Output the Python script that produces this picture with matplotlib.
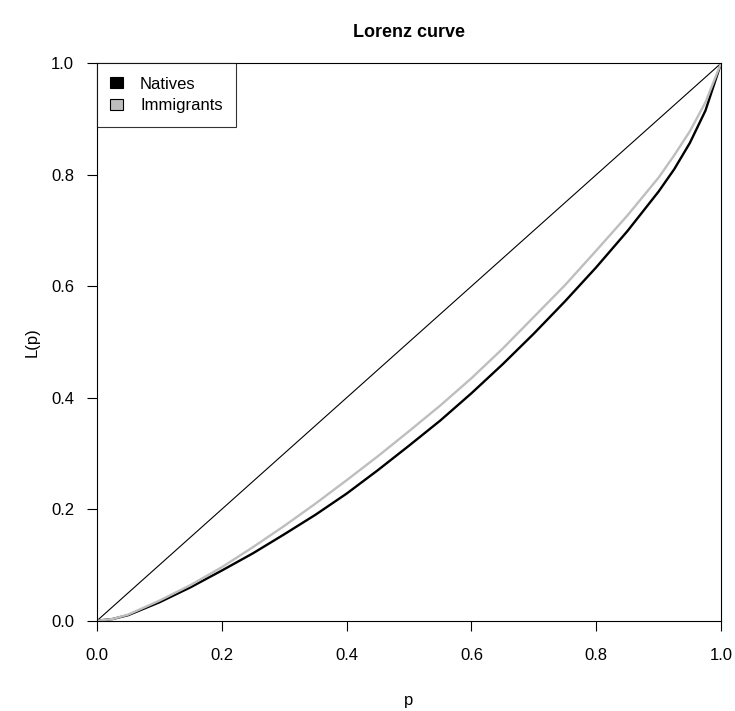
import matplotlib.pyplot as plt
from matplotlib.patches import Patch

plt.rcParams['font.family'] = ['Liberation Sans', 'DejaVu Sans']

# cumulative population share and income share
p = [0, 0.025, 0.05, 0.1, 0.15, 0.2, 0.25, 0.3, 0.35, 0.4, 0.45, 0.5, 0.55, 0.6,
     0.65, 0.7, 0.75, 0.8, 0.85, 0.9, 0.925, 0.95, 0.975, 1.0]
natives = [0, 0.003, 0.010, 0.033, 0.060, 0.090, 0.121, 0.155, 0.190, 0.228, 0.270,
           0.314, 0.359, 0.408, 0.460, 0.515, 0.573, 0.634, 0.699, 0.770, 0.810,
           0.857, 0.915, 1.0]
immigrants = [0, 0.003, 0.011, 0.036, 0.064, 0.096, 0.132, 0.170, 0.210, 0.252, 0.295,
              0.340, 0.386, 0.435, 0.488, 0.545, 0.602, 0.664, 0.727, 0.795, 0.835,
              0.878, 0.930, 1.0]

ticks = [0.0, 0.2, 0.4, 0.6, 0.8, 1.0]

fig = plt.figure(figsize=(7.35, 7.11), dpi=100)
ax = fig.add_axes([0.132, 0.127, 0.849, 0.784])

ax.plot([0, 1], [0, 1], color='black', lw=0.8)
ax.plot(p, natives, color='black', lw=1.7, solid_joinstyle='round')
ax.plot(p, immigrants, color='#bebebe', lw=1.7, solid_joinstyle='round')

ax.set_xlim(0, 1)
ax.set_ylim(0, 1)
ax.set_xticks(ticks)
ax.set_yticks(ticks)
ax.set_xticklabels(['%.1f' % t for t in ticks])
ax.set_yticklabels(['%.1f' % t for t in ticks])
ax.tick_params(direction='out', length=7.5, width=0.8, labelsize=12)
ax.tick_params(axis='x', pad=12)
ax.tick_params(axis='y', pad=9)
for s in ax.spines.values():
    s.set_linewidth(0.8)

ax.set_xlabel('p', fontsize=12, labelpad=22)
ax.set_ylabel('L(p)', fontsize=12, labelpad=8)
ax.set_title('Lorenz curve', fontsize=13, fontweight='bold', pad=19)

handles = [Patch(facecolor='black', edgecolor='black', lw=0.8, label='Natives'),
           Patch(facecolor='#bebebe', edgecolor='black', lw=0.8, label='Immigrants')]
leg = ax.legend(handles=handles, loc='upper left', bbox_to_anchor=(0, 1),
                borderaxespad=0, fancybox=False, fontsize=12,
                handlelength=0.78, handleheight=0.6, handletextpad=1.0,
                borderpad=0.8, labelspacing=0.4)
leg.get_frame().set_edgecolor('black')
leg.get_frame().set_linewidth(0.8)

fig.savefig('out.png', dpi=100)
plt.close(fig)
